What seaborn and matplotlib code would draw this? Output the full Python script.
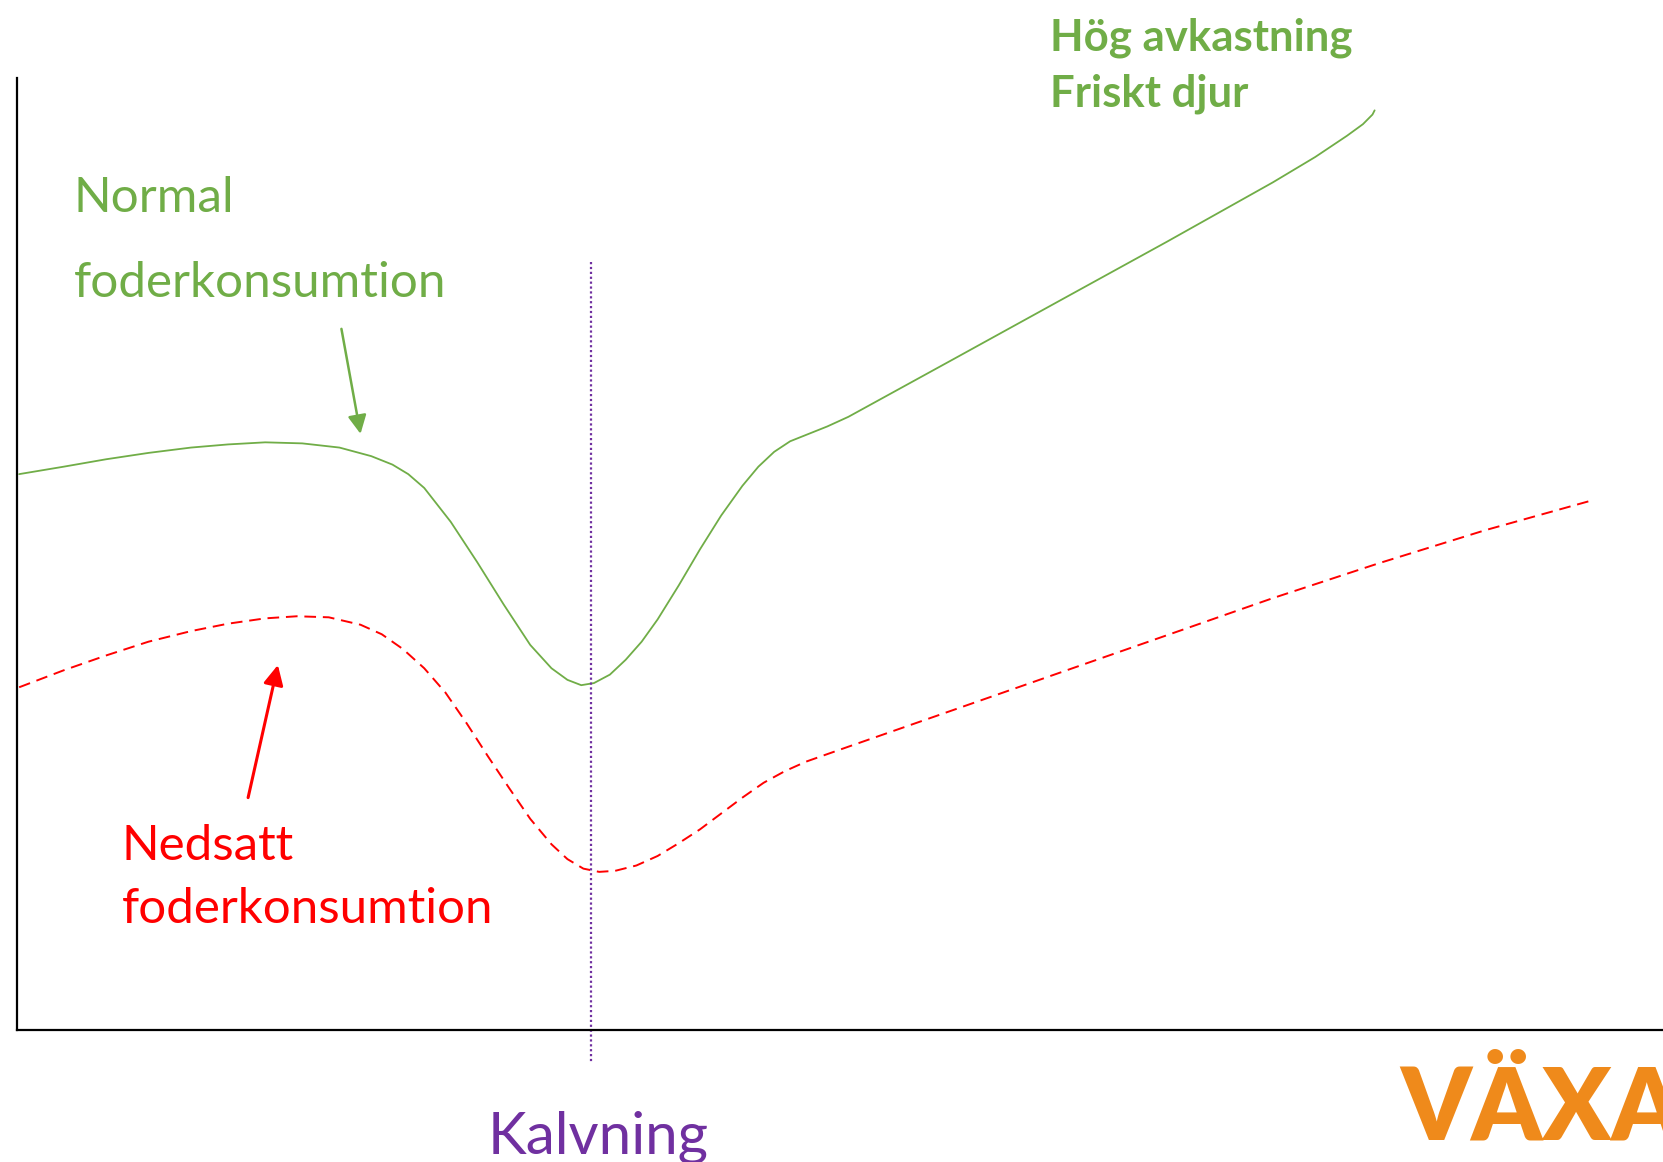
import numpy as np
import pandas as pd
import matplotlib
matplotlib.use("Agg")
import matplotlib.pyplot as plt
import seaborn as sns

# Normal foderkonsumtion (frisk ko) - tid (godtycklig skala 0-100) / intag (0-100)
normal_x = [0.13, 2.83, 5.41, 7.99, 10.57, 12.82, 15.08, 17.33, 19.59, 21.52,
            22.81, 23.77, 24.74, 26.35, 27.96, 29.57, 31.18, 32.47, 33.44, 34.28,
            35.05, 36.02, 36.98, 37.95, 38.92, 40.20, 41.49, 42.78, 44.07, 45.04,
            46.00, 46.97, 47.94, 49.23, 50.51, 56.96, 63.40, 69.85, 76.29, 78.87,
            80.80, 81.77, 82.35, 82.48]
normal_y = [58.39, 59.17, 59.95, 60.62, 61.18, 61.51, 61.73, 61.62, 61.18, 60.28,
            59.39, 58.39, 56.94, 53.38, 49.14, 44.69, 40.45, 38.00, 36.78, 36.22,
            36.44, 37.33, 38.89, 40.79, 43.13, 46.69, 50.48, 54.04, 57.16, 59.17,
            60.73, 61.84, 62.51, 63.40, 64.41, 70.53, 76.66, 82.79, 89.03, 91.70,
            93.93, 95.15, 96.16, 96.60]

# Nedsatt foderkonsumtion
nedsatt_x = [0.13, 2.83, 5.41, 7.99, 10.57, 12.82, 15.08, 17.01, 18.94, 20.87,
             22.16, 23.45, 24.74, 26.03, 27.32, 28.61, 29.90, 31.18, 32.47, 33.44,
             34.41, 35.37, 36.34, 37.63, 38.92, 40.20, 41.49, 42.78, 44.07, 45.36,
             46.65, 47.94, 49.23, 50.51, 56.96, 63.40, 69.85, 76.29, 82.74, 89.18,
             95.62]
nedsatt_y = [36.00, 37.78, 39.34, 40.79, 41.90, 42.68, 43.24, 43.46, 43.35, 42.57,
             41.57, 40.01, 38.00, 35.44, 32.21, 28.75, 25.41, 22.18, 19.51, 17.95,
             16.95, 16.61, 16.72, 17.28, 18.28, 19.62, 21.07, 22.74, 24.41, 25.97,
             27.19, 28.19, 28.98, 29.76, 33.66, 37.56, 41.46, 45.36, 49.03, 52.49,
             55.60]

kalvning_x = 34.86

GREEN = "#70AD47"
RED = "#FF0000"
PURPLE = "#7030A0"
ORANGE = "#EF8A1B"

df_normal = pd.DataFrame({"tid": normal_x, "intag": normal_y})
df_nedsatt = pd.DataFrame({"tid": nedsatt_x, "intag": nedsatt_y})

sns.set_theme(style="white")
plt.rcParams["font.family"] = ["Lato", "DejaVu Sans"]

fig = plt.figure(figsize=(16.63, 11.62), dpi=100)
ax = fig.add_axes([17 / 1663, 132 / 1162, 1 - 17 / 1663, 952 / 1162])

sns.lineplot(data=df_normal, x="tid", y="intag", ax=ax, color=GREEN,
             linewidth=1.3, sort=False, estimator=None)
sns.lineplot(data=df_nedsatt, x="tid", y="intag", ax=ax, color=RED,
             linewidth=1.4, sort=False, estimator=None)
ax.lines[-1].set_dashes((6, 3.5))
for ln in ax.lines:
    ln.set_solid_joinstyle("round")
    ln.set_dash_joinstyle("round")

# kalvningslinje
ax.plot([kalvning_x, kalvning_x], [80.7, -3.5], color=PURPLE, linewidth=1.6,
        linestyle=(0, (1, 1.2)), clip_on=False)

ax.set_xlim(0, 100)
ax.set_ylim(0, 100)
ax.set_xlabel("")
ax.set_ylabel("")
ax.set_xticks([])
ax.set_yticks([])
sns.despine(ax=ax, top=True, right=True)
for side in ["left", "bottom"]:
    ax.spines[side].set_color("black")
    ax.spines[side].set_linewidth(1.6)

# pilar
ax.annotate("", xy=(20.87, 62.62), xytext=(19.71, 73.65),
            arrowprops=dict(arrowstyle="-|>", color=GREEN, lw=1.8,
                            mutation_scale=28, shrinkA=0, shrinkB=0))
ax.annotate("", xy=(15.85, 38.34), xytext=(14.04, 24.41),
            arrowprops=dict(arrowstyle="-|>", color=RED, lw=2.2,
                            mutation_scale=30, shrinkA=0, shrinkB=0))

W, H = 1663, 1162


def ftext(px, py, s, **kw):
    fig.text(px / W, 1 - py / H, s, va="baseline", ha="left", **kw)


ftext(74, 212, "Normal", color=GREEN, fontsize=35.6)
ftext(74, 297, "foderkonsumtion", color=GREEN, fontsize=35.6)
ftext(122, 860, "Nedsatt", color=RED, fontsize=35.5)
ftext(122, 923, "foderkonsumtion", color=RED, fontsize=35.5)
ftext(1050, 50, "Hög avkastning", color=GREEN, fontsize=31.5, fontweight="bold")
ftext(1050, 107, "Friskt djur", color=GREEN, fontsize=31.5, fontweight="bold")
ftext(488, 1153, "Kalvning", color=PURPLE, fontsize=42)
# logotypen i hörnet, avskuren i kanten som i originalet
ftext(1400, 1140, "VÄXA", color=ORANGE, fontsize=72, fontweight="heavy")

fig.savefig("out.png", dpi=100, facecolor="white")
